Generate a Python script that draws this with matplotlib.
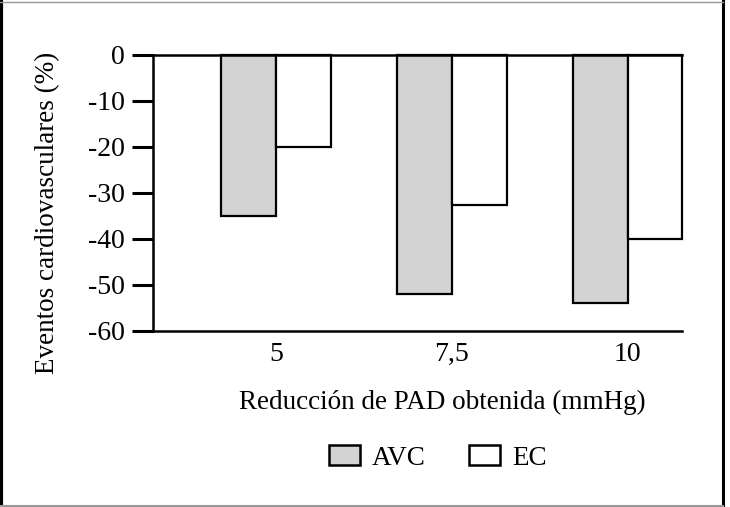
import numpy as np
import matplotlib.pyplot as plt
from matplotlib.patches import Patch
from matplotlib.lines import Line2D

categories = ["5", "7,5", "10"]
avc = [-35, -52, -54]
ec = [-20, -32.5, -40]
yticks = [0, -10, -20, -30, -40, -50, -60]

plt.rcParams['font.family'] = ['Liberation Serif', 'DejaVu Serif']

fig = plt.figure(figsize=(7.3, 5.07), dpi=100)
# axes placed in pixels: x 153..682, y 55..331 (from top)
W, H = 730, 507
ax = fig.add_axes([153 / W, 1 - 331 / H, (682 - 153) / W, (331 - 55) / H])

x = np.arange(len(categories))
w = 0.3125
ax.bar(x - w / 2, avc, w, color='#d3d3d3', edgecolor='black', linewidth=1.6, label='AVC', clip_on=False)
ax.bar(x + w / 2, ec, w, color='white', edgecolor='black', linewidth=1.6, label='EC', clip_on=False)

ax.set_xlim(-0.70, 2.31)
ax.set_ylim(-60, 0)
ax.set_yticks(yticks)
ax.set_yticklabels([str(t) for t in yticks])
ax.set_xticks(x)
ax.set_xticklabels(categories)

ax.spines['right'].set_visible(False)
for s in ['left', 'top', 'bottom']:
    ax.spines[s].set_linewidth(1.8)
ax.tick_params(axis='y', length=15, width=2.2, labelsize=20, pad=5)
ax.tick_params(axis='x', length=0, labelsize=20, pad=8)
ax.set_ylabel("Eventos cardiovasculares (%)", fontsize=19.5)
ax.yaxis.set_label_coords(-0.176, 0.428)
ax.set_xlabel("Reducción de PAD obtenida (mmHg)", fontsize=19.5)
ax.xaxis.set_label_coords(0.546, -0.215)

handles = [Patch(facecolor='#d3d3d3', edgecolor='black', linewidth=1.8),
           Patch(facecolor='white', edgecolor='black', linewidth=1.8)]
fig.legend(handles, ['AVC', 'EC'], loc='center', bbox_to_anchor=(438 / W, 1 - 458 / H),
           ncol=2, frameon=False, fontsize=19.5, handlelength=1.15, handleheight=0.75,
           handletextpad=0.45, columnspacing=1.6)

# frame around the figure
fig.add_artist(Line2D([0.002, 0.002], [0, 1], color='black', linewidth=3, transform=fig.transFigure))
fig.add_artist(Line2D([723 / W, 723 / W], [0, 1], color='black', linewidth=2.2, transform=fig.transFigure))
fig.add_artist(Line2D([0, 723 / W], [1 - 1.5 / H, 1 - 1.5 / H], color='#999999', linewidth=1, transform=fig.transFigure))
fig.add_artist(Line2D([0, 723 / W], [1.5 / H, 1.5 / H], color='#999999', linewidth=1.5, transform=fig.transFigure))

fig.savefig("out.png", dpi=100)
